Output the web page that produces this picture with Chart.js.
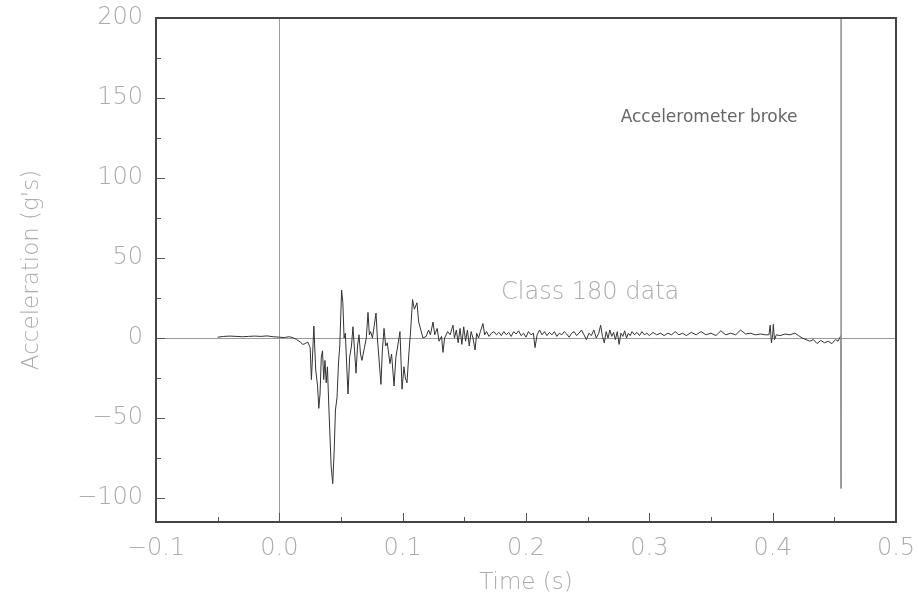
<!DOCTYPE html>
<html>
<head>
<meta charset="utf-8">
<script src="https://cdn.jsdelivr.net/npm/chart.js@4.4.1/dist/chart.umd.min.js"></script>
<style>
  body { margin: 0; background: #fff; }
  #wrap { width: 919px; height: 606px; position: relative; }
</style>
</head>
<body>
<div id="wrap"><canvas id="chartAccel"></canvas></div>
<script>
// time (s) and acceleration (g's)
const tiempos = [
  -0.050, -0.045, -0.040, -0.035, -0.030, -0.025, -0.020, -0.015, -0.010, -0.005,
  0.000, 0.004, 0.008, 0.011, 0.014, 0.017, 0.019, 0.021, 0.023, 0.025,
  0.026, 0.027, 0.028, 0.0295, 0.031, 0.032, 0.033, 0.034, 0.035, 0.036,
  0.037, 0.038, 0.039, 0.040, 0.041, 0.042, 0.0433, 0.0445, 0.0455, 0.0468,
  0.048, 0.049, 0.0505, 0.0515, 0.0525, 0.0535, 0.0548, 0.0557, 0.057, 0.0585,
  0.0597, 0.061, 0.0622, 0.0634, 0.0646, 0.0658, 0.067, 0.068, 0.069, 0.0705,
  0.0719, 0.073, 0.074, 0.0755, 0.077, 0.0784, 0.0795, 0.0805, 0.0824, 0.0835,
  0.0849, 0.0862, 0.0875, 0.0897, 0.091, 0.093, 0.0945, 0.096, 0.0978, 0.0995,
  0.101, 0.1022, 0.1035, 0.105, 0.1065, 0.108, 0.1095, 0.1116, 0.113, 0.1165,
  0.119, 0.121, 0.1225, 0.1246, 0.126, 0.128, 0.1295, 0.1315, 0.1327, 0.134,
  0.1365, 0.1385, 0.1408, 0.142, 0.1435, 0.145, 0.1465, 0.148, 0.1495, 0.151,
  0.1525, 0.154, 0.1555, 0.157, 0.1587, 0.160, 0.1615, 0.163, 0.1651, 0.1665,
  0.168, 0.170, 0.172, 0.174, 0.176, 0.178, 0.180, 0.182, 0.184, 0.186,
  0.188, 0.190, 0.192, 0.194, 0.196, 0.198, 0.200, 0.202, 0.204, 0.206,
  0.2073, 0.209, 0.211, 0.213, 0.215, 0.217, 0.219, 0.221, 0.223, 0.225,
  0.227, 0.229, 0.231, 0.233, 0.235, 0.237, 0.239, 0.241, 0.243, 0.245,
  0.247, 0.249, 0.251, 0.253, 0.255, 0.257, 0.259, 0.2605, 0.262, 0.2635,
  0.265, 0.2665, 0.268, 0.2695, 0.271, 0.2725, 0.274, 0.2755, 0.277, 0.2785,
  0.280, 0.2815, 0.283, 0.2845, 0.286, 0.288, 0.290, 0.292, 0.294, 0.296,
  0.298, 0.300, 0.303, 0.306, 0.309, 0.312, 0.315, 0.318, 0.321, 0.324,
  0.327, 0.330, 0.334, 0.338, 0.342, 0.346, 0.350, 0.354, 0.358, 0.362,
  0.366, 0.370, 0.374, 0.378, 0.382, 0.386, 0.390, 0.394, 0.397, 0.398,
  0.399, 0.400, 0.4005, 0.4015, 0.403, 0.406, 0.410, 0.414, 0.418, 0.421,
  0.424, 0.427, 0.430, 0.433, 0.436, 0.439, 0.442, 0.445, 0.448, 0.451,
  0.453, 0.4553, 0.4555
];
const aceleracion = [
  0.5, 1.0, 1.2, 1.0, 0.8, 1.0, 1.2, 1.0, 1.3, 0.8,
  0.5, 0.3, 0.8, 0.2, -1.0, -2.5, -4.0, -3.5, -2.5, -6,
  -26, -10, 7.5, -20, -30, -44, -35, -12, -8, -26,
  -14, -28, -18, -40, -60, -80, -91, -70, -45, -37,
  -15, -5, 30, 22, 0, 3, -20, -35, -12, -5,
  7, -8, -22, -5, 2, -10, -14, -10, -6, 0,
  16, 2, 4, 0, 8, 15.6, 0, -10, -29, -8,
  6, -5, -3, -16, -10, -30, -12, -5, 4, -32,
  -18, -25, -28, -10, 5, 24, 18, 22, 10, 0,
  1, 5, 2, 10, 2, 6, -2, 1, -9, 0,
  4, 2, 8, 0, 5, -3, 6, -4, 7, -2,
  5, -5, 4, 0, -7.5, 3, 0, 4, 9, 2,
  4, 1, 3, 4, 2, 3.5, 1.5, 4, 2, 3.5,
  1, 4, 2.5, 4.5, 1.5, 3, 0.5, 4, 2, 3,
  -6, 2, 5, 2, 4, 1.5, 3.5, 2, 4, 1,
  3, 2, 4, 2.5, 0.5, 3, 4, 1.5, 3, 5,
  2, -1, 3, 1.5, 5, 0, 3, 8, 1, -3,
  4, 0, 5, 1, 3.5, -1, 4, -4, 3, 1,
  4.5, 0, 3, 1.5, 4, 2, 3.5, 1.5, 4, 2,
  3, 1.5, 3.5, 2, 3, 1.5, 3, 2, 4, 2,
  3, 1.5, 3.5, 2, 4, 2, 3, 1.5, 4.5, 2,
  3, 2, 5, 2.5, 3, 2, 2.5, 2, 2, 8,
  -3, 2, 8.5, -1, 2, 1.5, 2.5, 2, 3, 1.5,
  0, -1, -2, -1, -3.5, -1.5, -3, -2, -3.5, -1,
  -2, 1.5, -94
];
const tiempoRotura = 0.4555;
const lineaRotura = [200, -94];

// marcas de los ejes (mayores con etiqueta, menores sin ella)
const ticksX = [-0.1, -0.05, 0.0, 0.05, 0.1, 0.15, 0.2, 0.25, 0.3, 0.35, 0.4, 0.45, 0.5];
const etiquetasX = ["\u22120.1", "", "0.0", "", "0.1", "", "0.2", "", "0.3", "", "0.4", "", "0.5"];
const ticksY = [-100, -75, -50, -25, 0, 25, 50, 75, 100, 125, 150, 175, 200];
const etiquetasY = ["\u2212100", "", "\u221250", "", "0", "", "50", "", "100", "", "150", "", "200"];

const GRIS_TEXTO = "#ababab";
const FUENTE = "'DejaVu Sans', sans-serif";

const puntos = tiempos.map((t, i) => ({ x: t, y: aceleracion[i] }));
const puntosRotura = lineaRotura.map(v => ({ x: tiempoRotura, y: v }));

// ticks hacia adentro + marco + textos
const marcoPlugin = {
  id: "marco",
  afterDraw(chart) {
    const { ctx, chartArea: a, scales } = chart;
    ctx.save();
    ctx.strokeStyle = "#555";
    ctx.lineWidth = 1;
    ticksY.forEach((v, i) => {
      const py = Math.round(scales.y.getPixelForValue(v)) + 0.5;
      const largo = etiquetasY[i] ? 9 : 5;
      ctx.beginPath(); ctx.moveTo(a.left, py); ctx.lineTo(a.left + largo, py); ctx.stroke();
    });
    ticksX.forEach((v, i) => {
      const px = Math.round(scales.x.getPixelForValue(v)) + 0.5;
      const largo = etiquetasX[i] ? 9 : 5;
      ctx.beginPath(); ctx.moveTo(px, a.bottom); ctx.lineTo(px, a.bottom - largo); ctx.stroke();
    });
    ctx.lineWidth = 2;
    ctx.strokeStyle = "#444";
    ctx.strokeRect(a.left, a.top, a.right - a.left, a.bottom - a.top);

    const x = scales.x, y = scales.y;
    ctx.textAlign = "center";
    ctx.textBaseline = "middle";
    ctx.fillStyle = GRIS_TEXTO;
    ctx.font = "200 24px " + FUENTE;
    ctx.fillText("Class 180 data", x.getPixelForValue(0.252), y.getPixelForValue(28));
    ctx.fillStyle = "#666";
    ctx.font = "17px " + FUENTE;
    ctx.fillText("Accelerometer broke", x.getPixelForValue(0.3484), y.getPixelForValue(138));
    ctx.restore();
  }
};

const chart = new Chart(document.getElementById("chartAccel"), {
  type: "scatter",
  data: {
    datasets: [
      { data: puntosRotura, showLine: true, borderColor: "#9a9a9a", borderWidth: 1, pointRadius: 0 },
      { data: puntos, showLine: true, borderColor: "#333", borderWidth: 1, pointRadius: 0, tension: 0 }
    ]
  },
  options: {
    responsive: true,
    maintainAspectRatio: false,
    animation: false,
    layout: { padding: { left: 0, right: 23, top: 18, bottom: 0 } },
    plugins: { legend: { display: false }, tooltip: { enabled: false } },
    scales: {
      x: {
        type: "linear",
        min: -0.1, max: 0.5,
        afterBuildTicks: (s) => { s.ticks = ticksX.map(v => ({ value: v })); },
        afterFit: (s) => { s.height = 84; s.paddingLeft = 0; s.paddingRight = 0; },
        border: { display: false },
        grid: {
          drawTicks: false,
          color: (c) => c.tick && c.tick.value === 0 ? "#9a9a9a" : "rgba(0,0,0,0)",
          lineWidth: 1
        },
        ticks: {
          autoSkip: false, maxRotation: 0, padding: 12,
          color: GRIS_TEXTO, font: { family: FUENTE, size: 24, weight: 200 },
          callback: (v, i) => etiquetasX[i]
        },
        title: {
          display: true, text: "Time (s)", color: GRIS_TEXTO,
          font: { family: FUENTE, size: 23, weight: 200 }, padding: { top: 0, bottom: 9 }
        }
      },
      y: {
        min: -115, max: 200,
        afterBuildTicks: (s) => { s.ticks = ticksY.map(v => ({ value: v })); },
        afterFit: (s) => { s.width = 156; s.paddingTop = 0; s.paddingBottom = 0; },
        border: { display: false },
        grid: {
          drawTicks: false,
          color: (c) => c.tick && c.tick.value === 0 ? "#9a9a9a" : "rgba(0,0,0,0)",
          lineWidth: 1
        },
        ticks: {
          autoSkip: false, padding: 13,
          color: GRIS_TEXTO, font: { family: FUENTE, size: 24, weight: 200 },
          callback: (v, i) => etiquetasY[i]
        },
        title: {
          display: true, text: "Acceleration (g's)", color: GRIS_TEXTO,
          font: { family: FUENTE, size: 23, weight: 200 }, padding: { top: 18, bottom: 0 }
        }
      }
    }
  },
  plugins: [marcoPlugin]
});
</script>
</body>
</html>
